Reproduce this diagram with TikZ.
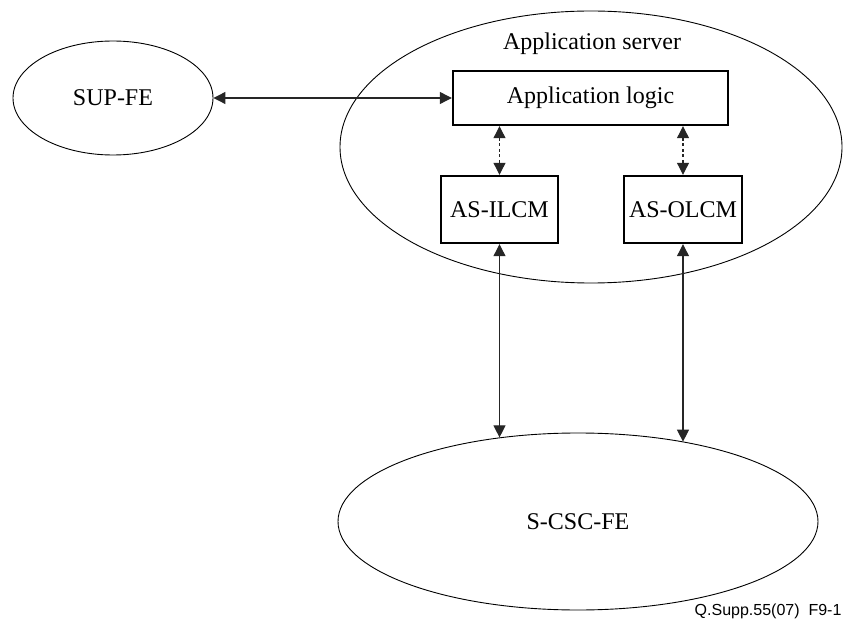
\documentclass[tikz,border=0pt]{standalone}
\usepackage{fontspec}
\setmainfont{Liberation Serif}
\newfontfamily\footfont{Liberation Sans}
\usetikzlibrary{shapes.geometric, arrows.meta}
\tikzstyle{block} = [rectangle, draw, line width=2.4pt, align=center, inner sep=0pt]
\tikzstyle{entity} = [ellipse, draw, line width=0.9pt, inner sep=0pt]
\tikzstyle{link} = [draw, black!85, line width=1.1pt, {Triangle[length=12pt,width=12pt]}-{Triangle[length=12pt,width=12pt]}]

\begin{document}
\begin{tikzpicture}[x=1pt, y=-1pt, font=\fontsize{24}{28}\selectfont]
    \useasboundingbox (0,0) rectangle (846,620);
    % Nodes
    \node [entity, minimum width=200pt, minimum height=114pt] (supfe) at (113,98) {SUP-FE};
    \node [entity, minimum width=502pt, minimum height=272pt] (appserver) at (591,147) {};
    \node (servertitle) at (592,44) {Application server};
    \node [block, minimum width=275pt, minimum height=54pt] (applogic) at (590.5,98) {Application logic};
    \node [block, minimum width=117pt, minimum height=67pt] (ilcm) at (499.5,209.5) {AS-ILCM};
    \node [block, minimum width=118pt, minimum height=67pt] (olcm) at (683,209.5) {AS-OLCM};
    \node [entity, minimum width=480pt, minimum height=177pt] (scscfe) at (578,521.5) {S-CSC-FE};
    \node [anchor=east, font=\footfont\fontsize{16}{18}\selectfont] (figno) at (845,611) {Q.Supp.55(07)\ \ F9-1};

    % arrows
    \draw [link] (supfe.east) -- (applogic.west);
    \draw [link, dash pattern=on 3pt off 2.5pt] (ilcm.north |- applogic.south) -- (ilcm.north);
    \draw [link, dash pattern=on 3pt off 2.5pt] (olcm.north |- applogic.south) -- (olcm.north);
    \draw [link] (ilcm.south) -- (ilcm.south |- scscfe.133.4);
    \draw [link] (olcm.south) -- (olcm.south |- scscfe.37.2);

\end{tikzpicture}
\end{document}
